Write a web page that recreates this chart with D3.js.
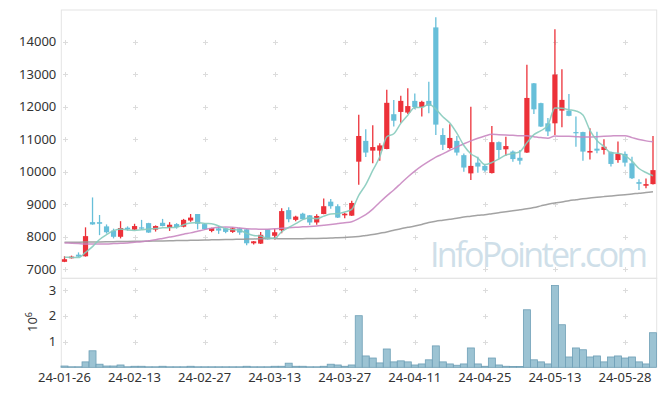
<!DOCTYPE html>
<html><head><meta charset="utf-8">
<script src="https://cdn.jsdelivr.net/npm/d3@7"></script>
<style>body{margin:0;background:#fff}svg{display:block}</style>
</head><body><svg id="c" width="665" height="396"></svg>
<script>
const dates = ["24-01-26","24-01-29","24-01-30","24-01-31","24-02-01","24-02-02","24-02-05","24-02-06","24-02-07","24-02-08",
"24-02-13","24-02-14","24-02-15","24-02-16","24-02-19","24-02-20","24-02-21","24-02-22","24-02-23","24-02-26",
"24-02-27","24-02-28","24-02-29","24-03-04","24-03-05","24-03-06","24-03-07","24-03-08","24-03-11","24-03-12",
"24-03-13","24-03-14","24-03-15","24-03-18","24-03-19","24-03-20","24-03-21","24-03-22","24-03-25","24-03-26",
"24-03-27","24-03-28","24-03-29","24-04-01","24-04-02","24-04-03","24-04-04","24-04-05","24-04-08","24-04-09",
"24-04-11","24-04-12","24-04-15","24-04-16","24-04-17","24-04-18","24-04-19","24-04-22","24-04-23","24-04-24",
"24-04-25","24-04-26","24-04-29","24-04-30","24-05-02","24-05-03","24-05-07","24-05-08","24-05-09","24-05-10",
"24-05-13","24-05-14","24-05-16","24-05-17","24-05-20","24-05-21","24-05-22","24-05-23","24-05-24","24-05-27",
"24-05-28","24-05-29","24-05-30","24-05-31","24-06-03"];
const open = [7230,7340,7450,7400,8450,8450,8320,8190,8000,8280,8220,8290,8420,8220,8430,8270,8390,8310,8500,8700,
8390,8180,8260,8260,8150,8260,8230,7800,7790,8230,8030,8200,8820,8520,8710,8660,8440,8700,9080,8940,
8660,8650,10310,10950,10650,10650,10700,11770,11840,11820,12180,11990,12180,14440,11130,10730,10950,10510,9950,10280,
10180,9960,10910,10690,10620,10430,10590,12720,12110,11490,11490,11880,11880,11220,11220,10590,10710,10670,10610,10360,
10550,10260,9680,9570,9620];
const high = [7400,7420,7520,8290,9210,8670,8380,8250,8480,8320,8400,8520,8430,8350,8550,8450,8420,8550,8700,8700,
8420,8280,8330,8280,8290,8280,8250,7870,8150,8230,8240,8880,8910,8650,8740,8670,8690,9180,9160,9000,
8740,9110,11750,11310,11430,10880,12520,12210,12340,12570,12410,12180,12770,14750,11340,11460,11100,10560,12000,10460,
10230,11410,10930,11080,10650,10670,13290,12730,12120,11650,14380,13150,12390,11700,11230,11340,11230,11000,10620,10930,
10620,10460,9770,9790,11100];
const low = [7220,7330,7380,7390,8370,8050,8100,7950,7950,8190,8210,8230,8120,8160,8320,8180,8250,8290,8460,8230,
8220,8140,8090,8110,8120,8060,7740,7760,7780,7920,7920,8110,8450,8480,8530,8360,8370,8690,8860,8580,
8570,8640,9600,10450,10260,10340,10690,11390,11510,11780,11920,11700,11800,11130,10670,10690,10500,10000,9750,9970,
10000,9950,10410,10490,10310,10220,10580,11780,11380,11100,11130,11370,11710,10770,10340,10380,10570,10530,10160,10280,
10160,9780,9440,9490,9610];
const close = [7310,7390,7390,8020,8380,8400,8140,8000,8270,8230,8330,8250,8130,8330,8330,8370,8300,8520,8590,8400,
8230,8270,8190,8150,8260,8130,7800,7860,8060,7920,8140,8790,8540,8620,8540,8440,8640,8940,8940,8590,
8710,9040,11100,10590,10760,10810,12120,11570,12180,12020,11990,12150,12030,11450,10830,11040,10590,10130,10180,10160,
10040,10910,10670,10790,10390,10340,12270,11920,11390,11240,12990,12210,11720,11190,10620,10640,10650,10770,10240,10550,
10280,9800,9630,9620,10050];
const volume = [50000,20000,20000,210000,640000,120000,50000,50000,90000,20000,40000,40000,20000,20000,40000,20000,20000,20000,40000,20000,
20000,20000,20000,20000,20000,20000,40000,20000,20000,20000,40000,40000,160000,40000,40000,20000,20000,40000,120000,90000,
40000,90000,2000000,440000,360000,170000,710000,210000,250000,210000,90000,130000,290000,830000,210000,130000,80000,130000,750000,130000,
40000,360000,90000,40000,30000,30000,2230000,290000,210000,130000,3170000,1650000,400000,750000,680000,400000,440000,210000,400000,440000,
360000,400000,210000,130000,1340000];
const ma5 = [7370,7365,7360,7520,7698,7916,8066,8188,8238,8208,8194,8216,8242,8254,8274,8282,8292,8370,8422,8436,
8408,8402,8336,8248,8220,8200,8106,8040,8022,7954,7956,8154,8290,8402,8526,8586,8556,8636,8700,8710,
8764,8844,9276,9606,10040,10460,11076,11170,11488,11740,11976,11982,12074,11928,11690,11500,11188,10808,10554,10420,
10220,10284,10392,10514,10560,10620,10892,11142,11262,11432,11962,11950,11910,11870,11746,11276,10964,10774,10584,10570,
10498,10328,10100,9976,9876];
const ma20 = [7810,7800,7790,7780,7775,7775,7780,7790,7800,7810,7830,7850,7880,7910,7950,7990,8030,8080,8120,8170,
8220,8260,8290,8300,8290,8270,8250,8240,8230,8235,8245,8260,8275,8290,8305,8315,8330,8355,8380,8405,
8430,8460,8560,8680,8850,9060,9260,9440,9640,9840,10020,10180,10320,10450,10550,10660,10760,10860,10950,11030,
11100,11150,11140,11130,11120,11110,11110,11080,11050,11030,11100,11090,11090,11080,11070,11070,11080,11090,11100,11110,
11110,11050,10990,10950,10920];
const ma60 = [7830,7832,7834,7836,7840,7843,7846,7850,7853,7856,7860,7863,7866,7870,7874,7878,7882,7886,7890,7895,
7900,7905,7910,7915,7920,7925,7930,7935,7940,7945,7945,7940,7940,7940,7942,7945,7950,7955,7960,7970,
7980,7990,8010,8040,8070,8110,8150,8200,8250,8290,8330,8380,8440,8480,8510,8540,8570,8610,8630,8660,
8680,8710,8740,8770,8800,8830,8860,8900,8950,9000,9040,9070,9110,9140,9170,9195,9215,9235,9255,9275,
9295,9315,9340,9360,9385];
const priceTicks = [7000,8000,9000,10000,11000,12000,13000,14000];
const volTicks = [1000000,2000000,3000000];
const xTickLabels = ["24-01-26","24-02-13","24-02-27","24-03-13","24-03-27","24-04-11","24-04-25","24-05-13","24-05-28"];

const L=61.3, R=656.7, T=10, PB=278.3, VB=367.3;
const svg = d3.select("#c");
const font = "'Noto Sans', sans-serif";
const x = d3.scaleBand().domain(dates).range([61,656.5]).padding(0);
const cx = d => x(d) + x.bandwidth()/2;
const yP = d3.scaleLinear().domain([6723,14975]).range([PB,T]);
const yV = d3.scaleLinear().domain([0,3450000]).range([VB,PB]);

// borders
const bc = "#e4e4e4";
svg.append("rect").attr("x",L).attr("y",T).attr("width",R-L).attr("height",PB-T).attr("fill","none").attr("stroke",bc);
svg.append("rect").attr("x",L).attr("y",PB).attr("width",R-L).attr("height",VB-PB).attr("fill","none").attr("stroke",bc);

// plus markers
const gm = svg.append("g").attr("stroke","#dcdcdc").attr("stroke-width",1);
xTickLabels.forEach(d=>{
  const px = Math.round(cx(d))+0.5;
  const ys = priceTicks.map(v=>yP(v)).concat(volTicks.map(v=>yV(v)));
  ys.forEach(py=>{
    py = Math.round(py)+0.5;
    gm.append("line").attr("x1",px-2.5).attr("x2",px+2.5).attr("y1",py).attr("y2",py);
    gm.append("line").attr("x1",px).attr("x2",px).attr("y1",py-2.5).attr("y2",py+2.5);
  });
});

// watermark
svg.append("text").attr("x",430).attr("y",267).attr("font-family","'Open Sans', sans-serif")
  .attr("font-size",34).attr("fill","#cfdfe9").attr("textLength",218).text("InfoPointer.com");

// volume bars
svg.append("g").selectAll("rect").data(dates).join("rect")
  .attr("x",d=>x(d)).attr("width",x.bandwidth())
  .attr("y",(d,i)=>yV(volume[i])).attr("height",(d,i)=>VB-yV(volume[i]))
  .attr("fill","#9cc3d3").attr("stroke","#6e9fb6").attr("stroke-width",0.8);

// candles
const up="#ec3139", dn="#67bfd9";
const gc = svg.append("g");
dates.forEach((d,i)=>{
  const c = close[i]>=open[i]?up:dn;
  const px = cx(d);
  gc.append("line").attr("x1",px).attr("x2",px).attr("y1",yP(high[i])).attr("y2",yP(low[i]))
    .attr("stroke",c).attr("stroke-width",1.3);
  const y1 = yP(Math.max(open[i],close[i])), y2 = yP(Math.min(open[i],close[i]));
  gc.append("rect").attr("x",px-2.6).attr("width",5.2).attr("y",y1).attr("height",Math.max(1.2,y2-y1)).attr("fill",c);
});

// moving averages
const line = arr => d3.line().x((v,i)=>cx(dates[i])).y(v=>yP(v)).curve(d3.curveMonotoneX)(arr);
svg.append("path").attr("d",line(ma60)).attr("fill","none").attr("stroke","#999").attr("stroke-width",1.5).attr("opacity",0.9);
svg.append("path").attr("d",line(ma20)).attr("fill","none").attr("stroke","#c987c1").attr("stroke-width",1.5).attr("opacity",0.9);
svg.append("path").attr("d",line(ma5)).attr("fill","none").attr("stroke","#86cbbd").attr("stroke-width",1.5).attr("opacity",0.9);

// axes
const styleAxis = g => { g.select(".domain").remove(); g.selectAll("text").attr("font-family",font).attr("font-size",13).attr("fill","#333"); };
svg.append("g").attr("transform",`translate(${L},0)`)
  .call(d3.axisLeft(yP).tickValues(priceTicks).tickSize(0).tickPadding(5).tickFormat(d3.format("d"))).call(styleAxis);
svg.append("g").attr("transform",`translate(${L},0)`)
  .call(d3.axisLeft(yV).tickValues(volTicks).tickSize(0).tickPadding(5).tickFormat(d=>d/1e6)).call(styleAxis);
svg.append("g").attr("transform",`translate(0,${VB})`)
  .call(d3.axisBottom(x).tickValues(xTickLabels).tickSize(0).tickPadding(5.5)).call(styleAxis);

// exponent label
const et = svg.append("text").attr("transform","translate(37,322) rotate(-90)").attr("text-anchor","middle")
  .attr("font-family",font).attr("font-size",13).attr("fill","#333");
et.append("tspan").text("10");
et.append("tspan").attr("dy",-5).attr("font-size",9).text("6");
</script></body></html>
